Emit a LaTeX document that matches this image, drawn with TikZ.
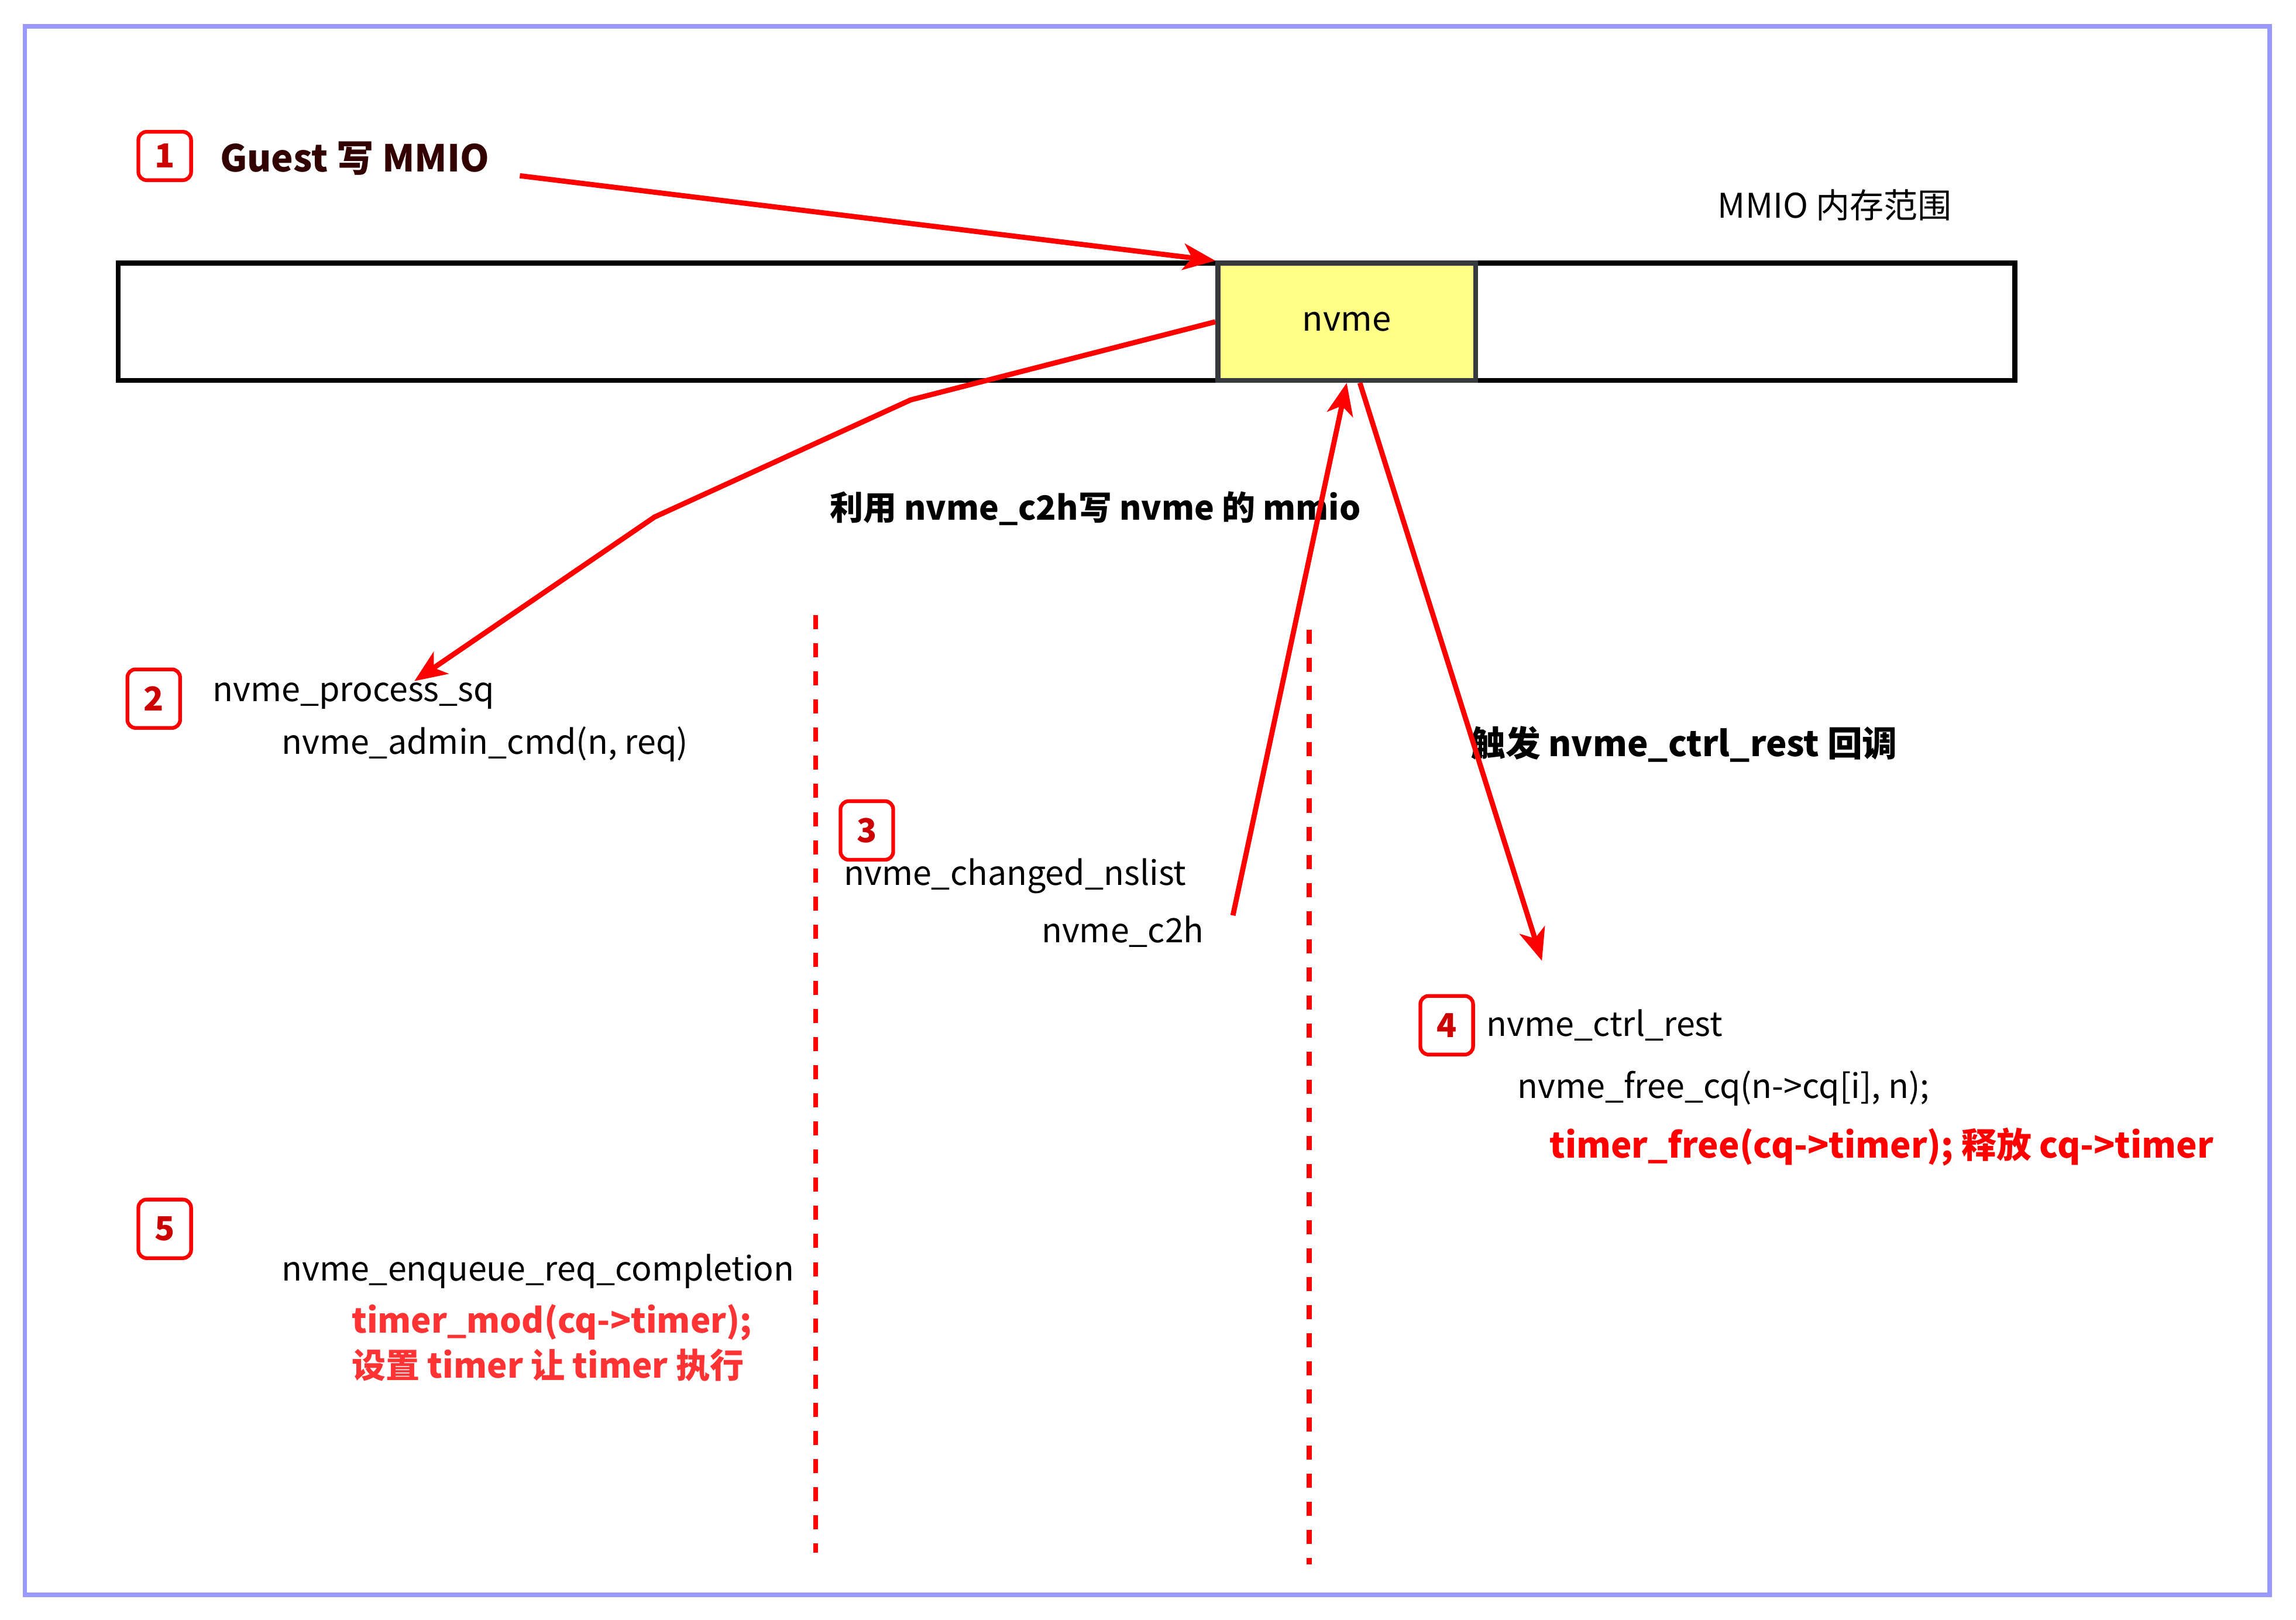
\documentclass[tikz,border=0pt]{standalone}
\usepackage{fontspec}
\setmainfont{Noto Sans CJK SC}
\usetikzlibrary{arrows.meta}
\definecolor{frameBlue}{HTML}{9999FF}
\definecolor{nvmeYellow}{HTML}{FFFF88}
\definecolor{nvmeGray}{HTML}{36393D}
\definecolor{badgeRed}{HTML}{CC0000}
\definecolor{noteRed}{HTML}{FF3333}
\definecolor{guestBrown}{HTML}{330000}
\tikzset{
    badge/.style={draw=red, line width=1.8pt, rounded corners=4pt, minimum width=0.9cm, minimum height=1.0cm, inner sep=0pt, text=badgeRed, font=\fontsize{16}{19}\selectfont\bfseries},
    code/.style={anchor=west, inner sep=0pt, font=\fontsize{16.3}{19}\selectfont},
    hint/.style={anchor=west, inner sep=0pt, font=\fontsize{16.2}{19}\selectfont\bfseries},
    note/.style={anchor=west, inner sep=0pt, text=noteRed, font=\fontsize{16.5}{19}\selectfont\bfseries},
    redline/.style={draw=red, line width=2.5pt, -{Stealth[length=5.5mm, width=4.5mm, inset=1.5mm]}},
    cut/.style={draw=red, line width=2.4pt, dash pattern=on 0.24cm off 0.24cm}
}
\begin{document}
\begin{tikzpicture}[x=0.025cm, y=-0.025cm]
            \useasboundingbox (0,0) rectangle (1568,1106);
            \draw[frameBlue, line width=2.2pt] (17,18) rectangle (1550,1089);
            % MMIO range
            \node[draw=black, line width=2.4pt, minimum width=32.375cm, minimum height=2cm, anchor=north west] (mmio) at (79,178) {};
            \node[draw=nvmeGray, fill=nvmeYellow, line width=2.4pt, minimum width=4.4cm, minimum height=2cm, anchor=north west, font=\fontsize{16.5}{19}\selectfont] (nvme) at (830,178) {nvme};
            \node[font=\fontsize{16.5}{19}\selectfont] (range) at (1253,140) {MMIO 内存范围};
            % step 1
            \node[badge, minimum height=0.825cm] (b1) at (112.5,106.5) {1};
            \node[hint, text=guestBrown, font=\fontsize{18}{21}\selectfont\bfseries] (guest) at (150,108) {Guest 写 MMIO};
            \coordinate (g1) at (355,120);
            \draw[redline] (g1) -- (nvme.north west);
            % step 2
            \node[hint, anchor=center] (c2hnote) at (748,347) {利用 nvme\_c2h写 nvme 的 mmio};
            \node[badge] (b2) at (105,477) {2};
            \node[code] (procsq) at (145,475) {nvme\_process\_sq};
            \node[code] (admin) at (192,508) {nvme\_admin\_cmd(n, req)};
            \coordinate (p1) at (622,273);
            \coordinate (p2) at (447,353);
            \coordinate (p3) at (283,465);
            \draw[redline] (nvme.west) -- (p1) -- (p2) -- (p3);
            \draw[cut] (557,420) -- (557,1060);
            \draw[cut] (894,430) -- (894,1068);
            % step 3
            \node[badge] (b3) at (592,567) {3};
            \node[code] (nslist) at (576,598) {nvme\_changed\_nslist};
            \node[code] (c2h) at (711,636) {nvme\_c2h};
            \coordinate (c2hend) at (842,625);
            \draw[redline] (c2hend) -- (nvme.south);
            % step 4
            \node[hint, font=\fontsize{17}{20}\selectfont\bfseries] (trigger) at (1004,508) {触发 nvme\_ctrl\_rest 回调};
            \coordinate (ctrlend) at (1053,656);
            \draw[redline] ([xshift=0.225cm]nvme.south) -- (ctrlend);
            \node[badge] (b4) at (988,700) {4};
            \node[code] (ctrl) at (1015,700) {nvme\_ctrl\_rest};
            \node[code] (freecq) at (1036,743) {nvme\_free\_cq(n->cq[i], n);};
            \node[note, text=red, font=\fontsize{17}{20}\selectfont\bfseries] (tfree) at (1058,783) {timer\_free(cq->timer); 释放 cq->timer};
            % step 5
            \node[badge] (b5) at (112.5,839) {5};
            \node[code] (enq) at (192,868) {nvme\_enqueue\_req\_completion};
            \node[note] (tmod) at (240,903) {timer\_mod(cq->timer);};
            \node[note] (tset) at (240,932) {设置 timer 让 timer 执行};
        \end{tikzpicture}
\end{document}
